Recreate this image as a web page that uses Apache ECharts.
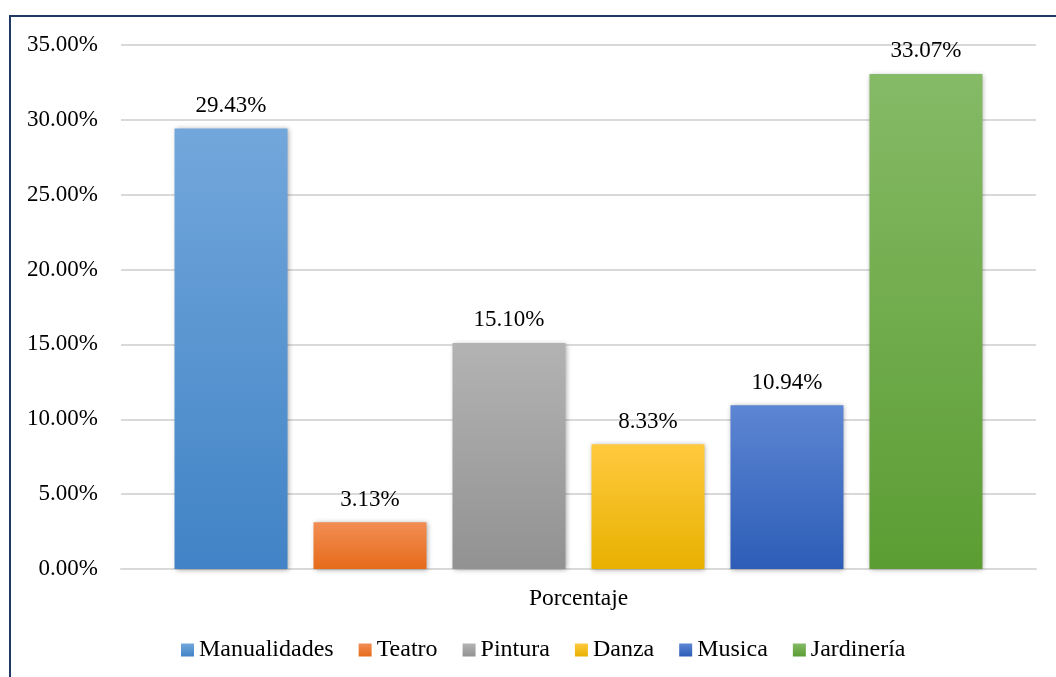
<!DOCTYPE html>
<html>
<head>
<meta charset="utf-8">
<script src="https://cdn.jsdelivr.net/npm/echarts@6/dist/echarts.min.js"></script>
<style>
  body, html { margin: 0; padding: 0; background: #fff; }
  #frame {
    position: absolute; left: 9px; top: 15px; width: 1100px; height: 700px;
    border-left: 2px solid #1f3864; border-top: 2px solid #1f3864;
  }
  #chart { position: absolute; left: 0; top: 0; width: 1056px; height: 677px; }
</style>
</head>
<body>
<div id="frame"></div>
<div id="chart"></div>
<script>
  // data
  const categories = ["Porcentaje"];
  const seriesNames = ["Manualidades", "Teatro", "Pintura", "Danza", "Musica", "Jardinería"];
  const values = [29.43, 3.13, 15.10, 8.33, 10.94, 33.07];
  const yTicks = [0, 5, 10, 15, 20, 25, 30, 35];

  // gradient top / bottom per series
  const topColors = ["#72a7db", "#f28d54", "#b3b3b3", "#ffc93f", "#5d86d3", "#85ba66"];
  const bottomColors = ["#4183c6", "#e66b1b", "#929292", "#e8b100", "#2d5db7", "#5c9d33"];

  const fmt = (v) => Number(v).toFixed(2) + "%";
  const font = "'Liberation Serif', 'Times New Roman', serif";

  const chart = echarts.init(document.getElementById("chart"), null, { renderer: "canvas" });

  const grad = (i) => new echarts.graphic.LinearGradient(0, 0, 0, 1, [
    { offset: 0, color: topColors[i] },
    { offset: 1, color: bottomColors[i] }
  ]);

  let series = seriesNames.map((name, i) => ({
    name: name,
    type: "bar",
    barWidth: 113,
    barGap: "23%",
    data: [values[i]],
    itemStyle: {
      color: grad(i),
      shadowBlur: 5,
      shadowColor: "rgba(0,0,0,0.35)",
      shadowOffsetX: 1,
      shadowOffsetY: 1
    },
    label: {
      show: true,
      position: "top",
      distance: 11,
      formatter: (p) => fmt(p.value),
      color: "#000",
      fontFamily: font,
      fontSize: 23
    }
  }));

  let option = {
    backgroundColor: "transparent",
    animation: false,
    grid: { left: 121, right: 20, top: 45, bottom: 108 },
    legend: {
      data: seriesNames.map((n, i) => ({ name: n, itemStyle: { color: grad(i) } })),
      bottom: 15,
      left: 181,
      padding: 0,
      icon: "rect",
      itemWidth: 13,
      itemHeight: 13,
      itemGap: 25,
      textStyle: { fontFamily: font, fontSize: 24, color: "#000" }
    },
    xAxis: {
      type: "category",
      data: categories,
      axisTick: { show: false },
      axisLine: { lineStyle: { color: "#d9d9d9", width: 2 } },
      axisLabel: { margin: 18, color: "#000", fontFamily: font, fontSize: 23.5 }
    },
    yAxis: {
      type: "value",
      min: yTicks[0],
      max: yTicks[yTicks.length - 1],
      interval: 5,
      axisLabel: { formatter: fmt, margin: 23, color: "#000", fontFamily: font, fontSize: 23 },
      splitLine: { lineStyle: { color: "#d9d9d9", width: 2 } },
      axisLine: { show: false },
      axisTick: { show: false }
    },
    series: series
  };

  chart.setOption(option);
</script>
</body>
</html>
